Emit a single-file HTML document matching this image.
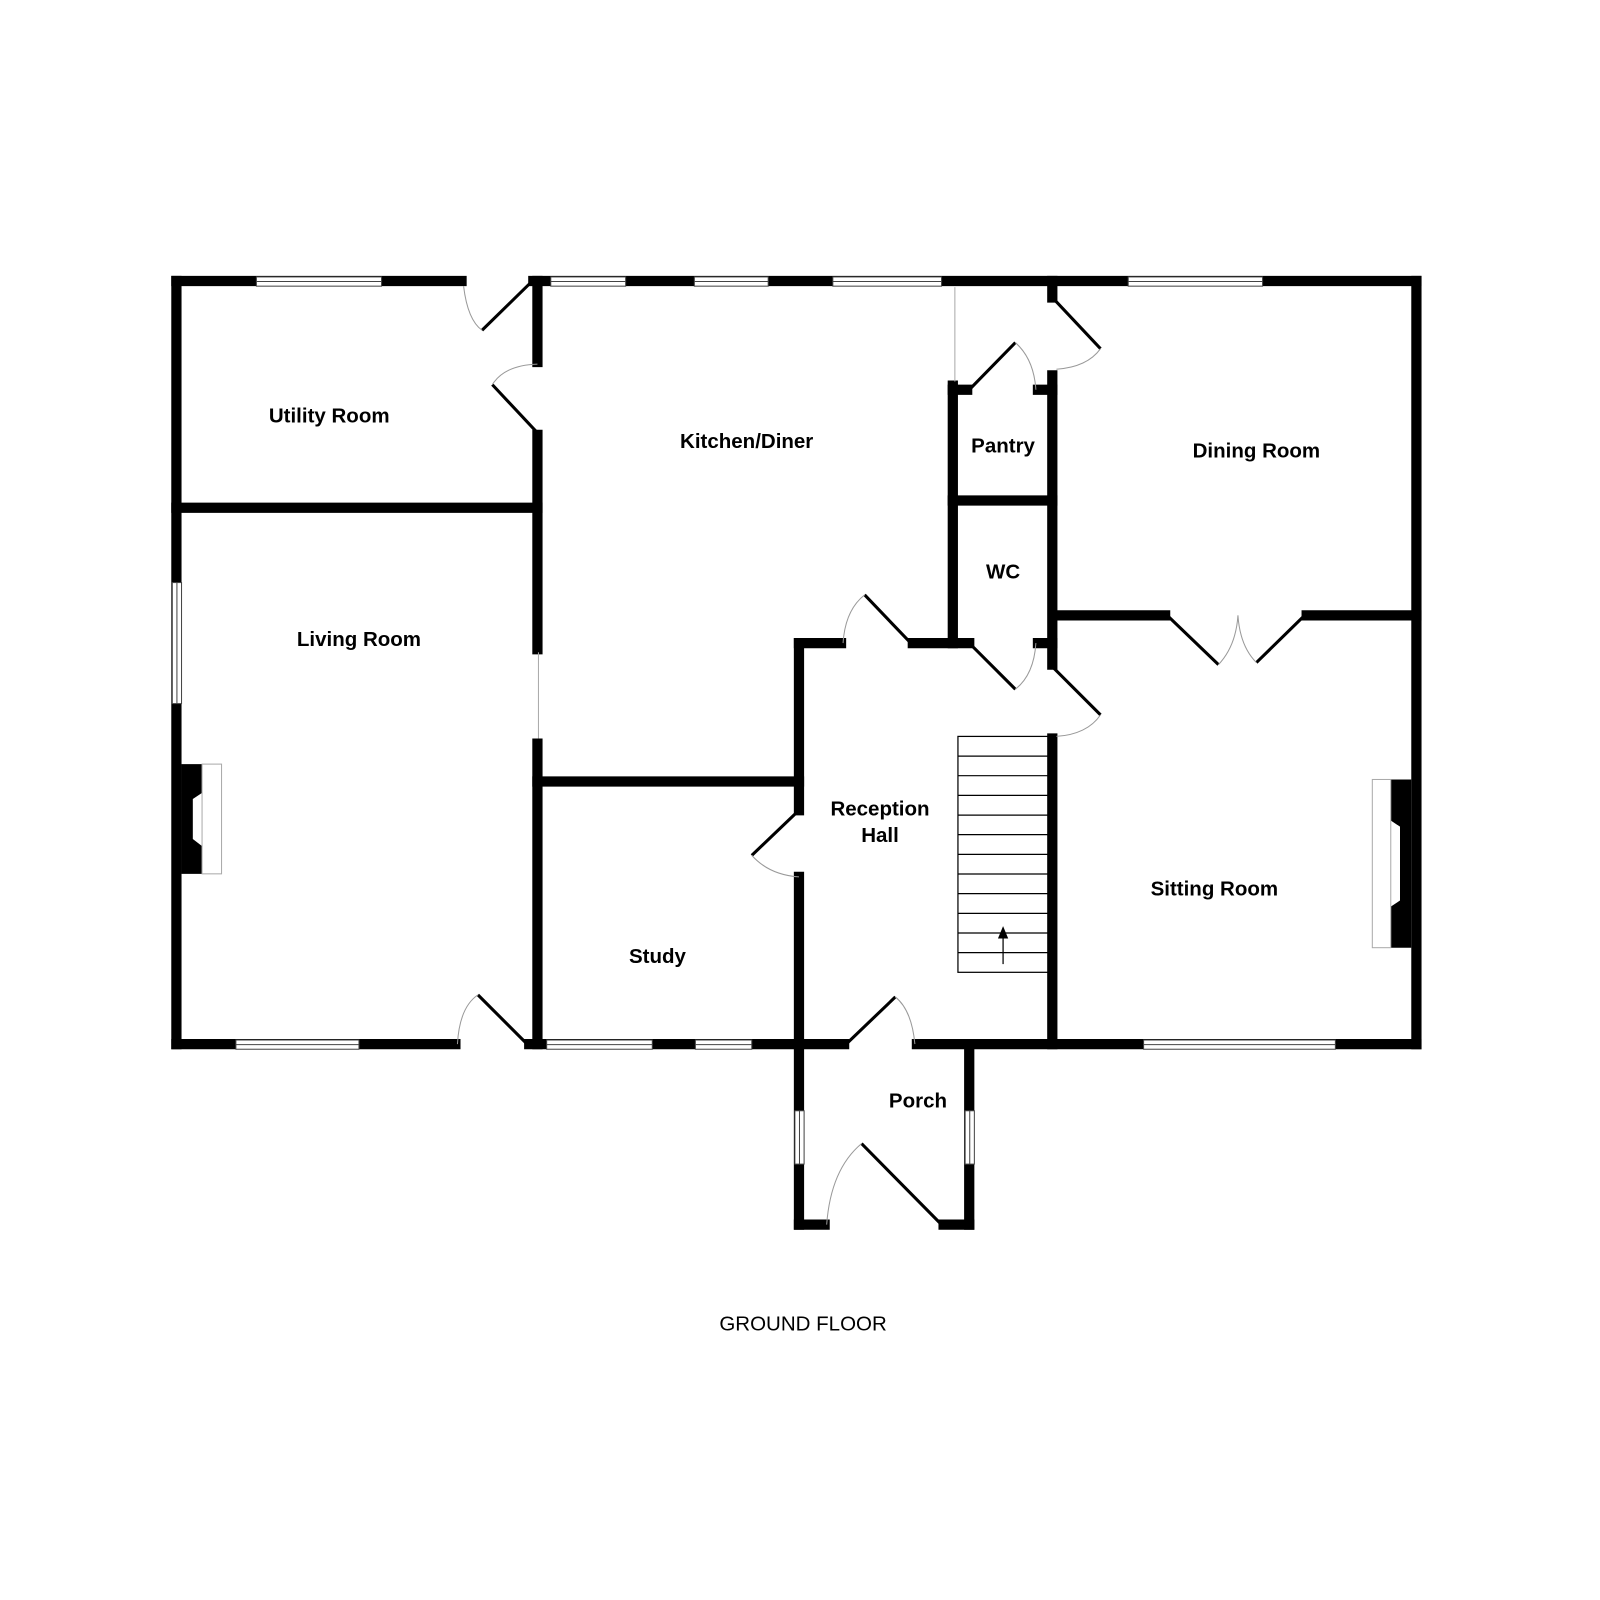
<!DOCTYPE html>
<html><head><meta charset="utf-8"><style>html,body{margin:0;padding:0;background:#fff}svg{display:block}</style></head>
<body>
<svg width="1600" height="1600" viewBox="0 0 1560 1560" xmlns="http://www.w3.org/2000/svg">
<rect width="1560" height="1560" fill="#fff"/>
<g stroke="#000" stroke-width="10" fill="none" stroke-linecap="square">
<!-- outer top -->
<line x1="172" y1="274" x2="450" y2="274"/>
<line x1="520" y1="274" x2="1381" y2="274"/>
<!-- left -->
<line x1="172" y1="274" x2="172" y2="1018"/>
<!-- right -->
<line x1="1381" y1="274" x2="1381" y2="1018"/>
<!-- bottom -->
<line x1="172" y1="1018" x2="444" y2="1018"/>
<line x1="516" y1="1018" x2="823" y2="1018"/>
<line x1="894" y1="1018" x2="1381" y2="1018"/>
<!-- utility/kitchen wall -->
<line x1="524" y1="274" x2="524" y2="353"/>
<line x1="524" y1="424" x2="524" y2="633"/>
<line x1="524" y1="725" x2="524" y2="1018"/>
<!-- utility/living -->
<line x1="172" y1="495" x2="524" y2="495"/>
<!-- kitchen/study -->
<line x1="524" y1="762" x2="779" y2="762"/>
<!-- hall left -->
<line x1="779" y1="627" x2="779" y2="790"/>
<line x1="779" y1="855" x2="779" y2="1018"/>
<!-- hall top -->
<line x1="779" y1="627" x2="820" y2="627"/>
<line x1="890" y1="627" x2="945" y2="627"/>
<!-- pantry/wc left -->
<line x1="929" y1="376" x2="929" y2="627"/>
<line x1="929" y1="380" x2="943" y2="380"/>
<line x1="1012" y1="380" x2="1026" y2="380"/>
<line x1="929" y1="488" x2="1026" y2="488"/>
<line x1="1012" y1="627" x2="1026" y2="627"/>
<!-- right of pantry/wc -->
<line x1="1026" y1="274" x2="1026" y2="290"/>
<line x1="1026" y1="366" x2="1026" y2="648"/>
<line x1="1026" y1="720" x2="1026" y2="1018"/>
<!-- dining/sitting -->
<line x1="1030" y1="600" x2="1136" y2="600"/>
<line x1="1274" y1="600" x2="1381" y2="600"/>
<!-- porch -->
<line x1="779" y1="1018" x2="779" y2="1194"/>
<line x1="945" y1="1018" x2="945" y2="1194"/>
<line x1="779" y1="1194" x2="804" y2="1194"/>
<line x1="920" y1="1194" x2="945" y2="1194"/>
</g>
<!-- windows -->
<g fill="#fff" stroke="#444" stroke-width="1">
<rect x="250" y="270" width="122" height="9"/><line x1="250" y1="274.5" x2="372" y2="274.5"/>
<rect x="537" y="270" width="73" height="9"/><line x1="537" y1="274.5" x2="610" y2="274.5"/>
<rect x="677" y="270" width="72" height="9"/><line x1="677" y1="274.5" x2="749" y2="274.5"/>
<rect x="812" y="270" width="106" height="9"/><line x1="812" y1="274.5" x2="918" y2="274.5"/>
<rect x="1100" y="270" width="131" height="9"/><line x1="1100" y1="274.5" x2="1231" y2="274.5"/>
<rect x="230" y="1014" width="120" height="9"/><line x1="230" y1="1018.5" x2="350" y2="1018.5"/>
<rect x="533" y="1014" width="103" height="9"/><line x1="533" y1="1018.5" x2="636" y2="1018.5"/>
<rect x="678" y="1014" width="55" height="9"/><line x1="678" y1="1018.5" x2="733" y2="1018.5"/>
<rect x="1115" y="1014" width="187" height="9"/><line x1="1115" y1="1018.5" x2="1302" y2="1018.5"/>
<rect x="168" y="568" width="9" height="118"/><line x1="172.5" y1="568" x2="172.5" y2="686"/>
<rect x="775" y="1083" width="9" height="52"/><line x1="779.5" y1="1083" x2="779.5" y2="1135"/>
<rect x="941" y="1083" width="9" height="52"/><line x1="945.5" y1="1083" x2="945.5" y2="1135"/>
</g>
<!-- thin grey openings -->
<g stroke="#aaa" stroke-width="1" fill="none">
<line x1="931" y1="280" x2="931" y2="372"/>
<line x1="525" y1="636" x2="525" y2="720"/>
</g>
<!-- door leaves -->
<g stroke="#000" stroke-width="3" fill="none">
<line x1="470" y1="322" x2="518" y2="275"/>
<line x1="480" y1="375" x2="524" y2="422"/>
<line x1="466" y1="970" x2="514" y2="1018"/>
<line x1="888" y1="627" x2="843" y2="580"/>
<line x1="779" y1="790" x2="733" y2="834"/>
<line x1="945" y1="380" x2="990" y2="334"/>
<line x1="945" y1="627" x2="990" y2="672"/>
<line x1="1026" y1="290" x2="1073" y2="340"/>
<line x1="1026" y1="650" x2="1073" y2="697"/>
<line x1="1138" y1="600" x2="1188" y2="648"/>
<line x1="1272" y1="600" x2="1225" y2="646"/>
<line x1="825" y1="1018" x2="873" y2="972"/>
<line x1="840" y1="1115" x2="918" y2="1194"/>
</g>
<!-- arcs -->
<g stroke="#999" stroke-width="1" fill="none">
<path d="M452 279 Q456 312 470 322"/>
<path d="M524 355 Q492 356 480 375"/>
<path d="M446 1018 Q448 982 466 970"/>
<path d="M843 580 Q824 595 822 627"/>
<path d="M733 834 Q750 853 779 855"/>
<path d="M990 334 Q1008 350 1010 380"/>
<path d="M990 672 Q1008 658 1010 627"/>
<path d="M1073 340 Q1060 358 1030 360"/>
<path d="M1073 697 Q1060 716 1030 718"/>
<path d="M1188 648 Q1205 630 1207 600"/>
<path d="M1225 646 Q1209 630 1207 600"/>
<path d="M873 972 Q889 985 892 1018"/>
<path d="M840 1115 Q810 1140 806 1194"/>
</g>
<!-- fireplaces -->
<path d="M177 745 H197 V773 L188 779 V818 L197 825 V852 H177 Z" fill="#000"/>
<rect x="197" y="745" width="19" height="107" fill="#fff" stroke="#aaa" stroke-width="1"/>
<path d="M1376 760 H1356 V800 L1365 806 V878 L1356 884 V924 H1376 Z" fill="#000"/>
<rect x="1338" y="760" width="18" height="164" fill="#fff" stroke="#aaa" stroke-width="1"/>
<!-- stairs -->
<g stroke="#000" stroke-width="1.2" fill="none">
<rect x="934" y="718" width="88" height="230"/>
<line x1="934" y1="737.2" x2="1022" y2="737.2"/>
<line x1="934" y1="756.3" x2="1022" y2="756.3"/>
<line x1="934" y1="775.5" x2="1022" y2="775.5"/>
<line x1="934" y1="794.7" x2="1022" y2="794.7"/>
<line x1="934" y1="813.8" x2="1022" y2="813.8"/>
<line x1="934" y1="833" x2="1022" y2="833"/>
<line x1="934" y1="852.2" x2="1022" y2="852.2"/>
<line x1="934" y1="871.3" x2="1022" y2="871.3"/>
<line x1="934" y1="890.5" x2="1022" y2="890.5"/>
<line x1="934" y1="909.7" x2="1022" y2="909.7"/>
<line x1="934" y1="928.8" x2="1022" y2="928.8"/>
<line x1="978" y1="940" x2="978" y2="912"/>
</g>
<polygon points="978,903 973,915 983,915" fill="#000"/>
<!-- labels -->
<g font-family="Liberation Sans, Arial, sans-serif" font-weight="bold" font-size="20" text-anchor="middle" fill="#000">
<text x="321" y="412">Utility Room</text>
<text x="728" y="437">Kitchen/Diner</text>
<text x="978" y="441">Pantry</text>
<text x="978" y="564">WC</text>
<text x="1225" y="446">Dining Room</text>
<text x="350" y="630">Living Room</text>
<text x="858" y="795">Reception</text>
<text x="858" y="821">Hall</text>
<text x="1184" y="873">Sitting Room</text>
<text x="641" y="939">Study</text>
<text x="895" y="1080">Porch</text>
</g>
<text x="783" y="1297" font-family="Liberation Sans, Arial, sans-serif" font-size="20" text-anchor="middle" fill="#000">GROUND FLOOR</text>
</svg>
</body></html>
